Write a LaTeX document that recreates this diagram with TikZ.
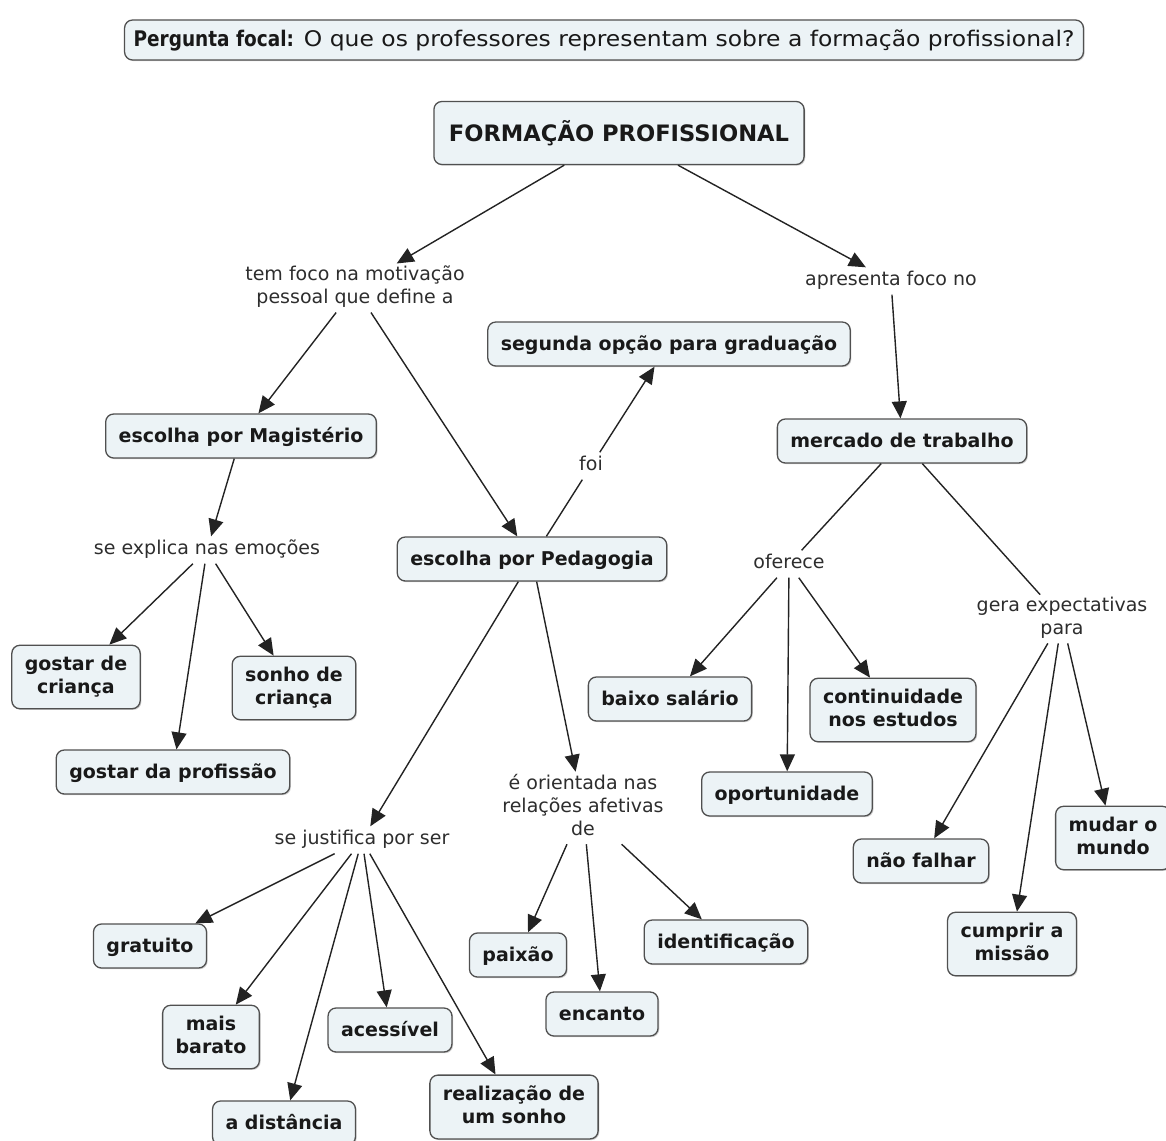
\documentclass[tikz,border=0pt]{standalone}
\usepackage{fontspec}
\setmainfont{DejaVu Sans}
\newfontfamily\focalfont{DejaVu Sans}[FakeStretch=1.09]
\newfontfamily\focalbold{DejaVu Sans}[FakeStretch=0.86]
\usetikzlibrary{arrows.meta,shadows}
\definecolor{boxfill}{RGB}{236,243,246}
\definecolor{boxline}{RGB}{80,80,80}
\definecolor{linkcol}{RGB}{35,35,35}
\definecolor{phrasecol}{RGB}{45,45,45}
% line strut that sits the text a little lower in its box
\newcommand\linestrut{\rule[-5pt]{0pt}{23pt}}
\begin{document}
\begin{tikzpicture}[x=1pt,y=-1pt,
  concept/.style={draw=boxline, line width=1.3pt, fill=boxfill, rounded corners=8pt,
    align=center, inner xsep=13pt, inner ysep=10.5pt,
    font=\fontsize{19}{23}\selectfont\bfseries, text=black!90,
    execute at begin node=\linestrut, execute at end node=\linestrut,
    drop shadow={shadow xshift=1.2pt, shadow yshift=-1.2pt, fill=black!30, opacity=0.6}},
  root/.style={concept, font=\fontsize{22.6}{27}\selectfont\bfseries, inner xsep=15pt, inner ysep=18.5pt},
  focus/.style={concept, font=\fontsize{21.5}{25}\focalfont, inner xsep=9pt, inner ysep=8.5pt},
  phrase/.style={align=center, inner sep=2pt, text=phrasecol,
    font=\fontsize{19}{23}\selectfont,
    execute at begin node=\strut, execute at end node=\strut},
  link/.style={draw=linkcol, line width=1.4pt},
  arr/.style={link, -{Triangle[length=17pt,width=15pt]}}
]
\useasboundingbox (0,0) rectangle (1166,1140);

% focal question
\node[focus] (q) at (604,40) {{\focalbold\bfseries Pergunta focal:} O que os professores representam sobre a formação profissional?};

% concepts
\node[root] (fp) at (619,133) {FORMAÇÃO PROFISSIONAL};
\node[concept] (seg) at (669,344) {segunda opção para graduação};
\node[concept] (mag) at (241,436) {escolha por Magistério};
\node[concept] (mer) at (902,441) {mercado de trabalho};
\node[concept] (ped) at (532,559) {escolha por Pedagogia};
\node[concept] (gc) at (76,677) {gostar de\\criança};
\node[concept] (sc) at (294,688) {sonho de\\criança};
\node[concept] (gp) at (173,772) {gostar da profissão};
\node[concept] (bs) at (670,699) {baixo salário};
\node[concept] (ce) at (893,710) {continuidade\\nos estudos};
\node[concept] (op) at (787,794) {oportunidade};
\node[concept] (nf) at (921,861) {não falhar};
\node[concept] (mm) at (1113,838) {mudar o\\mundo};
\node[concept] (cm) at (1012,944) {cumprir a\\missão};
\node[concept] (gr) at (150,946) {gratuito};
\node[concept] (mb) at (211,1037) {mais\\barato};
\node[concept] (ac) at (390,1030) {acessível};
\node[concept] (ad) at (284,1123) {a distância};
\node[concept] (rs) at (514,1107) {realização de\\um sonho};
\node[concept] (pa) at (518,955) {paixão};
\node[concept] (en) at (602,1014) {encanto};
\node[concept] (id) at (726,942) {identificação};

% linking phrases
\node[phrase] (l1) at (355,288) {tem foco na motivação\\pessoal que define a};
\node[phrase] (l2) at (891,281) {apresenta foco no};
\node[phrase] (l3) at (591,466) {foi};
\node[phrase] (l4) at (207,550) {se explica nas emoções};
\node[phrase] (l5) at (789,564) {oferece};
\node[phrase] (l6) at (1062,619) {gera expectativas\\para};
\node[phrase] (l7) at (583,808) {é orientada nas\\relações afetivas\\de};
\node[phrase] (l8) at (362,840) {se justifica por ser};

% connectors
\draw[arr] (fp) -- (l1);
\draw[arr] (fp) -- (l2);
\draw[arr] (l1) -- (mag);
\draw[arr] (l1) -- (ped);
\draw[arr] (l2) -- (mer);
\draw[link] (ped) -- (l3);
\draw[arr] (l3) -- (seg);
\draw[arr] (mag) -- (l4);
\draw[arr] (l4) -- (gc);
\draw[arr] (l4) -- (sc);
\draw[arr] (l4) -- (gp);
\draw[link] (mer) -- (l5);
\draw[link] (mer) -- (l6);
\draw[arr] (l5) -- (bs);
\draw[arr] (l5) -- (op);
\draw[arr] (l5) -- (ce);
\draw[arr] (l6) -- (nf);
\draw[arr] (l6) -- (cm);
\draw[arr] (l6) -- (mm);
\draw[arr] (ped) -- (l8);
\draw[arr] (ped) -- (l7);
\draw[arr] (l8) -- (gr);
\draw[arr] (l8) -- (mb);
\draw[arr] (l8) -- (ac);
\draw[arr] (l8) -- (ad);
\draw[arr] (l8) -- (rs);
\draw[arr] (l7) -- (pa);
\draw[arr] (l7) -- (en);
\draw[arr] (l7) -- (id);
\end{tikzpicture}
\end{document}
